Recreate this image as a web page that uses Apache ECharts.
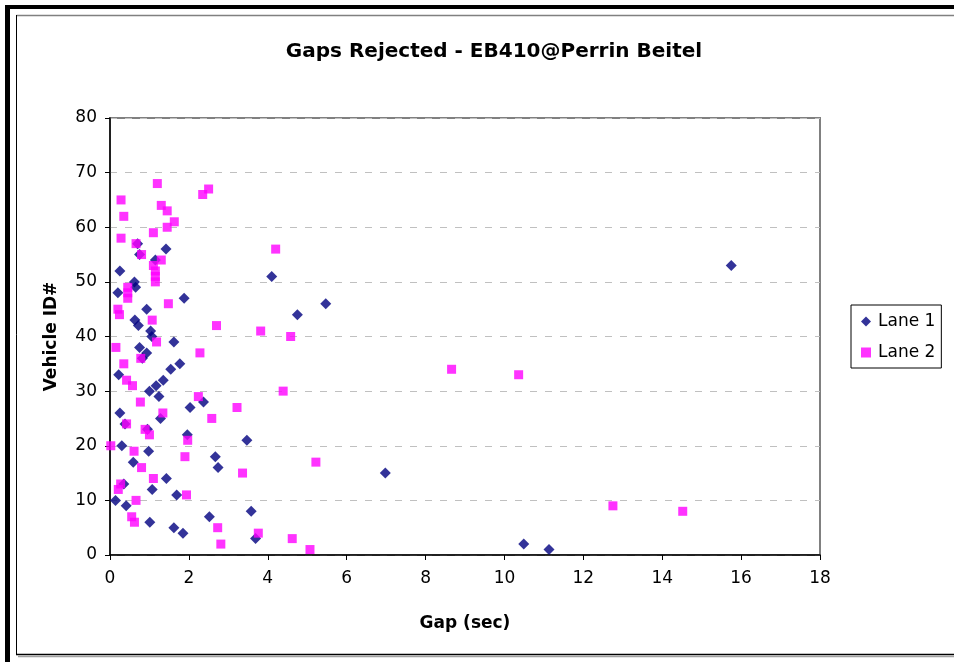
<!DOCTYPE html>
<html>
<head>
<meta charset="utf-8">
<script src="https://cdn.jsdelivr.net/npm/echarts@6/dist/echarts.min.js"></script>
<style>
html,body{margin:0;padding:0;background:#fff;}
#chart{width:954px;height:662px;}
</style>
</head>
<body>
<div id="chart"></div>
<script>
const titleText = 'Gaps Rejected - EB410@Perrin Beitel';
const xAxisName = 'Gap (sec)';
const yAxisName = 'Vehicle ID#';
const seriesNames = ['Lane 1', 'Lane 2'];

const lane1Gap = [11.13,10.49,3.69,1.85,1.62,1.01,2.52,3.58,0.41,0.14,1.69,1.07,0.35,1.43,6.98,2.74,0.59,2.67,0.98,0.3,3.47,1.96,0.95,0.38,1.28,0.25,2.03,2.37,1.24,1.0,1.17,1.35,0.22,1.54,1.77,0.82,0.93,0.75,1.62,1.06,1.03,0.72,0.63,4.75,0.93,5.47,1.88,0.2,0.65,0.62,4.1,0.25,15.75,1.15,0.75,1.42,0.7];
const lane1Id  = [1,2,3,4,5,6,7,8,9,10,11,12,13,14,15,16,17,18,19,20,21,22,23,24,25,26,27,28,29,30,31,32,33,34,35,36,37,38,39,40,41,42,43,44,45,46,47,48,49,50,51,52,53,54,55,56,57];

const lane2Gap = [5.07,2.81,4.62,3.76,2.73,0.62,0.55,14.52,12.75,0.66,1.94,0.21,0.27,1.1,3.36,0.8,5.22,1.9,0.61,0.02,1.97,1.0,0.89,0.42,2.58,1.34,3.22,0.77,2.24,4.39,0.57,0.42,10.36,8.66,0.35,0.78,2.28,0.15,1.18,4.58,3.82,2.7,1.07,0.24,0.2,1.48,0.45,0.45,0.45,1.15,1.15,1.15,1.1,1.3,0.8,4.2,0.66,0.28,1.1,1.45,1.63,0.35,1.45,1.3,0.28,2.35,2.5,1.2];
const lane2Id  = [1,2,3,4,5,6,7,8,9,10,11,12,13,14,15,16,17,18,19,20,21,22,23,24,25,26,27,28,29,30,31,32,33,34,35,36,37,38,39,40,41,42,43,44,45,46,47,48,49,50,51,52,53,54,55,56,57,58,59,60,61,62,63,64,65,66,67,68];

const xTicks = [0,2,4,6,8,10,12,14,16,18];
const yTicks = [0,10,20,30,40,50,60,70,80];

const FONT = '"DejaVu Sans", sans-serif';
const pairs = (xs, ys) => xs.map((v, i) => [v, ys[i]]);

const chart = echarts.init(document.getElementById('chart'), null, {renderer: 'canvas'});
chart.setOption({
  backgroundColor: '#ffffff',
  animation: false,
  title: {
    text: titleText,
    left: 489, top: 37, textAlign: 'center',
    textStyle: {fontFamily: FONT, fontSize: 20, fontWeight: 'bold', color: '#000'}
  },
  legend: {
    left: 851, top: 305,
    orient: 'vertical',
    padding: [8, 6, 7, 10],
    itemGap: 14,
    itemWidth: 10, itemHeight: 10,
    borderColor: '#000', borderWidth: 1,
    textStyle: {fontFamily: FONT, fontSize: 17, color: '#000', padding: [0, 0, 0, 2]},
    data: [
      {name: seriesNames[0], icon: 'diamond'},
      {name: seriesNames[1], icon: 'rect'}
    ]
  },
  grid: {
    left: 110, right: 134, top: 118, bottom: 107,
    show: true, borderColor: '#808080', borderWidth: 2, backgroundColor: '#fff'
  },
  xAxis: {
    type: 'value', min: xTicks[0], max: xTicks[xTicks.length - 1], interval: 2,
    name: xAxisName, nameLocation: 'middle', nameGap: 60,
    nameTextStyle: {fontFamily: FONT, fontSize: 17, fontWeight: 'bold', color: '#000'},
    axisLine: {show: true, onZero: false, lineStyle: {color: '#000', width: 1.5}},
    axisTick: {show: true, length: 5, lineStyle: {color: '#000'}},
    axisLabel: {fontFamily: FONT, fontSize: 17, color: '#000', margin: 15},
    splitLine: {show: false}
  },
  yAxis: {
    type: 'value', min: yTicks[0], max: yTicks[yTicks.length - 1], interval: 10,
    name: yAxisName, nameLocation: 'middle', nameGap: 50, nameRotate: 90,
    nameTextStyle: {fontFamily: FONT, fontSize: 17, fontWeight: 'bold', color: '#000'},
    axisLine: {show: true, onZero: false, lineStyle: {color: '#000', width: 1.5}},
    axisTick: {show: true, length: 5, lineStyle: {color: '#000'}},
    axisLabel: {fontFamily: FONT, fontSize: 17, color: '#000', margin: 13},
    splitLine: {show: true, lineStyle: {color: '#c0c0c0', type: [7, 8], width: 1}}
  },
  series: [
    {
      name: seriesNames[0], type: 'scatter', symbol: 'diamond', symbolSize: [11, 11],
      itemStyle: {color: '#000080'}, z: 2,
      data: pairs(lane1Gap, lane1Id)
    },
    {
      name: seriesNames[1], type: 'scatter', symbol: 'rect', symbolSize: [9, 9],
      itemStyle: {color: '#ff00ff'}, z: 3,
      data: pairs(lane2Gap, lane2Id)
    }
  ],
  graphic: [
    {type: 'rect', shape: {x: 5, y: 5, width: 960, height: 4}, style: {fill: '#000'}, silent: true},
    {type: 'rect', shape: {x: 5, y: 5, width: 5, height: 670}, style: {fill: '#000'}, silent: true},
    {type: 'line', shape: {x1: 16.5, y1: 15.5, x2: 960, y2: 15.5}, style: {stroke: '#808080', lineWidth: 1.5}, silent: true},
    {type: 'line', shape: {x1: 16.5, y1: 15, x2: 16.5, y2: 654.5}, style: {stroke: '#000', lineWidth: 1}, silent: true},
    {type: 'line', shape: {x1: 16, y1: 654.5, x2: 960, y2: 654.5}, style: {stroke: '#000', lineWidth: 1.5}, silent: true},
    {type: 'line', shape: {x1: 18, y1: 656.5, x2: 960, y2: 656.5}, style: {stroke: '#a0a0a0', lineWidth: 1.5}, silent: true}
  ]
});
</script>
</body>
</html>
